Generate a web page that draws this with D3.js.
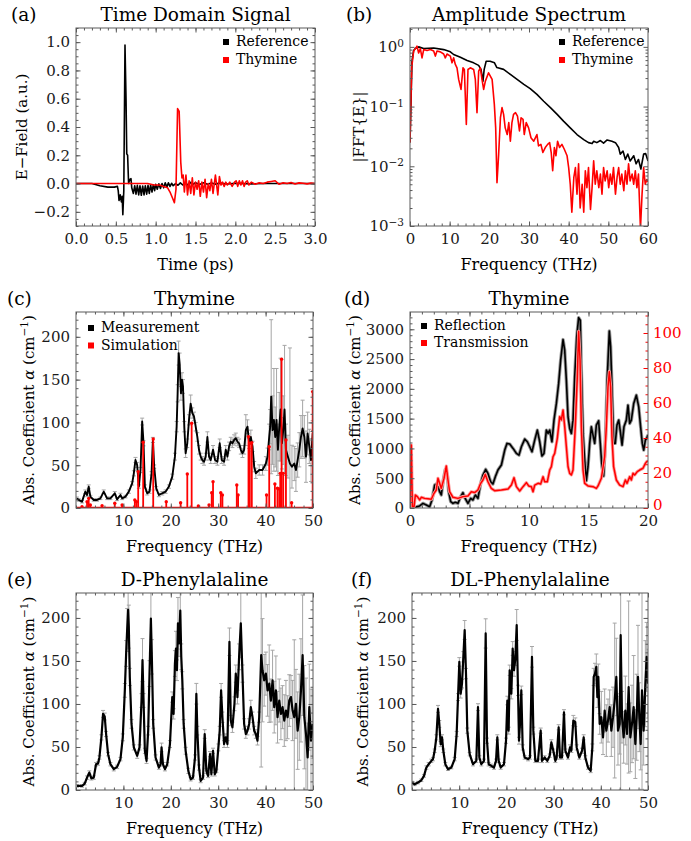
<!DOCTYPE html>
<html>
<head>
<meta charset="utf-8">
<script src="https://cdn.jsdelivr.net/npm/d3@7"></script>
<style>
  body { margin: 0; background: #fff; }
  text { font-family: "DejaVu Serif", serif; }
</style>
</head>
<body>
<div id="container"></div>
<script>
// ---------- data ----------
// (a) time domain signal: [time ps, field a.u.]
const refSignal = [[0,0],[0.2,0],[0.3,-0.015],[0.4,-0.025],[0.48,-0.025],[0.52,-0.02],[0.53,-0.05],[0.54,-0.12],[0.555,-0.08],[0.57,-0.13],[0.58,-0.09],[0.588,-0.22],[0.6,-0.05],[0.615,0.98],[0.628,0.6],[0.637,0.21],[0.648,0.2],[0.66,0.0],[0.675,0.03],[0.69,0.035],[0.70,-0.03],[0.72,-0.07],[0.737,-0.015],[0.753,-0.075],[0.77,-0.012],[0.787,-0.08],[0.803,-0.015],[0.82,-0.083],[0.837,-0.017],[0.854,-0.08],[0.87,-0.015],[0.887,-0.075],[0.904,-0.012],[0.92,-0.07],[0.937,-0.01],[0.954,-0.06],[0.97,-0.008],[0.987,-0.05],[1.0,-0.005],[1.02,-0.04],[1.04,-0.002],[1.06,-0.035],[1.08,0.0],[1.1,-0.03],[1.12,0.005],[1.14,-0.025],[1.16,0.005],[1.18,-0.02],[1.2,0.002],[1.22,-0.015],[1.25,0.0],[1.28,-0.012],[1.31,0.005],[1.34,-0.01],[1.37,0.008],[1.4,-0.01],[1.43,0.01],[1.46,-0.008],[1.5,0.006],[1.55,-0.006],[1.6,0.005],[1.65,-0.005],[1.7,0.004],[1.75,-0.004],[1.8,0.003],[1.9,-0.003],[2.0,0.002],[2.2,-0.002],[2.4,0.001],[2.6,0],[3.0,0]];
const thySignal = [[0,0],[0.9,0],[0.98,-0.01],[1.05,-0.01],[1.1,-0.02],[1.15,-0.03],[1.18,-0.06],[1.21,-0.1],[1.235,-0.135],[1.255,-0.04],[1.275,0.53],[1.295,0.51],[1.315,0.15],[1.33,0.04],[1.345,0.06],[1.36,-0.06],[1.38,0.06],[1.4,-0.08],[1.42,0.02],[1.44,-0.07],[1.46,0.04],[1.48,-0.08],[1.5,0.01],[1.52,-0.04],[1.54,0.02],[1.56,-0.09],[1.58,0.01],[1.6,-0.06],[1.62,0.03],[1.64,-0.1],[1.66,0.0],[1.68,-0.05],[1.7,0.03],[1.72,-0.07],[1.75,0.06],[1.78,-0.08],[1.8,0.05],[1.82,-0.01],[1.84,0.01],[1.86,-0.02],[1.88,0.01],[1.9,-0.01],[1.93,0.01],[1.96,-0.02],[1.99,0.01],[2.01,0.02],[2.03,-0.02],[2.05,0.02],[2.07,-0.01],[2.09,0.02],[2.11,-0.02],[2.13,0.01],[2.15,0.02],[2.17,-0.01],[2.2,0.01],[2.25,-0.005],[2.3,0.005],[2.35,0],[2.4,0.01],[2.45,0.015],[2.5,0.02],[2.55,-0.005],[2.6,0.005],[2.65,0],[2.7,0.008],[2.75,-0.003],[2.8,0.005],[2.85,0.002],[2.9,-0.002],[2.95,0.003],[3.0,0]];

// (b) amplitude spectrum: [THz, |FFT|]
const refSpectrum = [[0,0.025],[0.5,0.575],[0.92,0.87],[1.34,0.94],[2.18,1.0],[3.45,0.94],[5.97,0.96],[8.49,0.9],[10.17,0.825],[11.0,0.745],[12.7,0.67],[14.4,0.59],[16.05,0.54],[17.3,0.49],[17.9,0.42],[18.4,0.267],[18.7,0.42],[19.2,0.575],[20.2,0.575],[21.3,0.54],[21.9,0.45],[23.6,0.42],[25.3,0.345],[27,0.285],[28.7,0.235],[30.3,0.2],[32,0.16],[33.7,0.123],[35.4,0.096],[37.1,0.074],[38.7,0.057],[40.4,0.044],[42.1,0.034],[43.8,0.028],[45.0,0.0249],[45.9,0.024],[46.3,0.0263],[47.1,0.0249],[48.0,0.027],[48.8,0.0245],[49.7,0.0276],[50.9,0.0263],[51.8,0.0249],[52.6,0.0206],[53.0,0.016],[53.7,0.018],[54.3,0.013],[54.9,0.016],[55.5,0.0123],[56.4,0.015],[57.0,0.011],[57.6,0.013],[58.2,0.009],[58.9,0.016],[59.4,0.0163],[60,0.0123]];
const thySpectrum = [[0,0.025],[0.42,0.45],[0.92,0.85],[1.6,0.99],[1.76,1.03],[2.18,0.79],[2.6,0.94],[3.03,0.655],[3.45,0.9],[4.29,0.87],[5.13,0.9],[5.97,0.85],[6.39,0.7],[6.81,0.85],[7.65,0.825],[8.49,0.76],[8.9,0.655],[9.33,0.76],[10.17,0.7],[10.6,0.54],[11.01,0.655],[11.43,0.507],[11.85,0.446],[12.27,0.285],[12.86,0.194],[13.36,0.446],[13.7,0.418],[14.2,0.05],[14.62,0.418],[15.2,0.446],[16.05,0.418],[16.47,0.285],[16.89,0.079],[17.31,0.392],[17.73,0.446],[18.15,0.285],[18.57,0.194],[19.0,0.267],[19.8,0.368],[20.7,0.285],[21.26,0.109],[21.6,0.044],[21.93,0.0053],[22.35,0.016],[22.8,0.065],[23.2,0.096],[23.6,0.074],[24.0,0.044],[24.5,0.034],[24.9,0.054],[25.3,0.0263],[25.7,0.054],[26.1,0.074],[26.6,0.079],[27.1,0.069],[27.6,0.039],[28.0,0.065],[28.5,0.061],[28.8,0.034],[29.3,0.054],[29.9,0.044],[30.5,0.03],[31.2,0.0263],[32.0,0.034],[32.4,0.022],[33.0,0.0233],[33.5,0.017],[34.1,0.0206],[34.7,0.0233],[35.2,0.0249],[35.6,0.017],[35.97,0.0084],[36.4,0.0206],[36.8,0.015],[37.2,0.0263],[37.7,0.0206],[38.3,0.0233],[38.9,0.0193],[39.6,0.015],[40.0,0.0095],[40.4,0.005],[40.8,0.0017],[41.3,0.0065],[41.7,0.0095],[42.1,0.0034],[42.5,0.011],[42.9,0.002],[43.4,0.005],[43.8,0.0017],[44.2,0.0084],[44.6,0.0044],[45.0,0.0095],[45.5,0.0019],[45.9,0.0044],[46.3,0.0123],[46.7,0.005],[47.1,0.0084],[47.6,0.0044],[48.0,0.0074],[48.4,0.0034],[48.8,0.0095],[49.2,0.0057],[49.7,0.0084],[50.1,0.0044],[50.5,0.0074],[50.9,0.005],[51.3,0.0095],[51.8,0.0034],[52.2,0.0065],[52.6,0.0095],[53.0,0.005],[53.4,0.0074],[53.9,0.0039],[54.3,0.0084],[54.7,0.005],[55.1,0.011],[55.5,0.0057],[56.0,0.0074],[56.4,0.005],[56.8,0.0084],[57.2,0.0044],[57.6,0.0074],[58.1,0.0009],[58.5,0.0034],[58.9,0.0095],[59.3,0.005],[59.7,0.006],[60,0.0055]];

// (c) thymine absorption: [THz, alpha, error]
const thyMeasured = [[0.2,11.3,1.5],[0.56,9.4,1.5],[1.27,7.4,1.5],[1.97,19.1,2],[2.33,15.2,2],[2.68,25,2],[3.03,13.3,1.5],[3.74,9.4,1.5],[4.44,9.4,1.5],[5.15,11.3,1.5],[5.85,19.1,2],[6.56,11.3,1.5],[7.26,11.3,1.5],[8.18,17.2,2],[8.67,10.1,1.5],[9.38,15.2,2],[9.73,11.3,1.5],[10.44,13.3,1.5],[11.14,19.1,2],[11.85,28.8,2],[12.2,40.5,3],[12.55,56.1,3],[12.9,50.3,3],[13.26,25,2],[13.61,44.4,3],[13.96,101,4],[14.25,75.6,3],[14.53,25,2],[15.02,17.2,2],[15.51,19.1,2],[15.94,40.5,2],[16.22,79.5,3],[16.5,48.3,2],[16.93,23,2],[17.49,15.2,2],[18.19,17.2,2],[18.9,19.1,2],[19.6,25,2],[20.31,36.6,3],[20.87,60,4],[21.23,95,6],[21.44,134,10],[21.65,181,14],[21.86,169,12],[22.14,134,8],[22.36,150,8],[22.57,142,8],[22.85,95,6],[23.13,64,5],[23.48,75.6,5],[23.84,103,6],[24.19,122,10],[24.54,111,6],[24.89,107,5],[25.25,95,5],[25.6,83,5],[25.95,68,5],[26.3,60,4],[26.66,56,4],[27.01,54,4],[27.36,60,4],[27.72,83,6],[28.07,60,4],[28.42,56,4],[28.91,68,5],[29.34,56,4],[29.83,54,4],[30.32,75.6,5],[30.75,56,4],[31.24,54,4],[31.59,68,5],[31.95,60,4],[32.3,72,5],[32.65,77.6,5],[33.0,75.6,5],[33.36,79.5,6],[33.71,81.5,6],[34.06,77.6,5],[34.41,75.6,5],[34.77,68,5],[35.12,64,5],[35.47,68,5],[35.83,91,18],[36.18,95,8],[36.53,75.6,6],[36.88,83,8],[37.24,72,6],[37.59,48.3,6],[37.94,40.5,6],[38.65,44.4,6],[39.35,44.4,6],[40.06,52,8],[40.41,60,10],[40.76,83,15],[40.97,95,20],[41.18,130,90],[41.47,91,40],[41.75,103,60],[42.03,83,35],[42.31,103,60],[42.6,68,30],[42.88,95,40],[43.16,115,60],[43.44,75.6,30],[43.72,91,40],[44.0,115,75],[44.29,68,30],[44.71,60,25],[45.13,52,135],[45.56,48.3,25],[46.05,52,20],[46.4,44.4,25],[46.76,56,20],[47.11,68,20],[47.46,83,25],[47.81,93,33],[48.17,83,25],[48.52,60,30],[48.87,87,25],[49.22,72,20],[49.58,56,25],[49.93,87,15],[50,75.6,15]];
const thySimulated = [[1.27,1.6],[2.33,7.4],[2.68,11.3],[3.03,3.5],[5.5,2.7],[8.18,5.5],[9.73,3.5],[12.41,9.4],[12.76,7.4],[13.12,42.5],[14.17,76.8],[16.29,80.7],[19.04,7.4],[22.07,6.2],[23.48,39.8],[24.4,99],[25.81,2.3],[28.07,3.5],[28.63,17.9],[28.91,30.8],[30.54,17.9],[30.89,15.2],[33.92,26.9],[34.2,15.2],[36.39,83.4],[36.67,75.6],[37.09,76.4],[40.2,15.2],[40.76,71.7],[41.96,28],[42.5,23],[42.88,22.2],[43.09,40.5],[43.37,173.9],[43.72,40.5],[44.29,79.5],[45.49,6.2],[49.93,136]];

// (d) reflection (left axis) and transmission (right axis): [THz, alpha]
const reflection = [[0,0],[0.39,11],[0.81,34],[1.09,78],[1.37,50],[1.65,22],[1.85,134],[2.07,385],[2.3,413],[2.49,274],[2.63,218],[2.8,469],[2.97,648],[3.14,553],[3.25,274],[3.42,106],[3.61,78],[3.81,95],[4.03,78],[4.26,190],[4.45,257],[4.59,179],[4.87,78],[5.1,162],[5.29,134],[5.49,218],[5.71,162],[5.94,413],[6.13,553],[6.36,648],[6.55,581],[6.78,441],[6.97,402],[7.17,525],[7.39,637],[7.68,721],[7.96,972],[8.15,1084],[8.38,1073],[8.66,1000],[8.94,916],[9.16,888],[9.36,1028],[9.64,1157],[9.86,1112],[10.06,1028],[10.25,944],[10.48,1140],[10.7,1307],[10.9,1112],[11.09,872],[11.26,916],[11.46,1307],[11.6,1251],[11.74,1307],[11.93,1112],[12.1,1475],[12.3,1754],[12.49,2090],[12.66,2481],[12.86,2827],[13.0,2648],[13.14,2145],[13.28,1531],[13.42,1335],[13.56,1251],[13.7,1475],[13.84,2201],[14.01,2872],[14.17,3196],[14.31,3151],[14.4,2313],[14.54,1251],[14.68,805],[14.82,458],[14.96,693],[15.1,1084],[15.24,1363],[15.38,1224],[15.52,1084],[15.66,1391],[15.85,1464],[15.99,1084],[16.13,693],[16.27,536],[16.41,1084],[16.58,2201],[16.75,2972],[16.86,2704],[16.97,2034],[17.11,1084],[17.25,1084],[17.39,1391],[17.54,1475],[17.68,1279],[17.82,1056],[17.98,1363],[18.18,1475],[18.32,1726],[18.46,1419],[18.6,1475],[18.8,1754],[19.02,1894],[19.22,1698],[19.38,1363],[19.52,1084],[19.64,972],[19.78,1140],[19.89,1168],[20,1230]];
const transmission = [[0,0],[0.11,36],[0.2,0.8],[0.34,0.8],[0.45,7.4],[0.62,6.5],[0.81,4.6],[0.95,6.1],[1.23,5.5],[1.51,5.3],[1.79,5.0],[2.02,8.4],[2.21,10.3],[2.35,17],[2.49,14.1],[2.63,11.2],[2.86,17],[3.05,24],[3.19,16],[3.33,9.3],[3.61,6.1],[4.03,5.5],[4.45,6.5],[4.87,6.9],[5.15,9.3],[5.43,8.8],[5.71,10.3],[5.94,14.1],[6.13,16],[6.33,19.2],[6.55,15],[6.83,11.2],[7.11,9.9],[7.68,10.3],[8.24,10.9],[8.52,13.1],[8.74,17.3],[8.94,12.2],[9.22,9.7],[9.5,12.2],[9.78,14.5],[9.97,12.6],[10.2,12.2],[10.34,9.3],[10.48,13.1],[10.76,14.1],[10.98,13.7],[11.18,17.9],[11.32,15],[11.54,15],[11.74,21.7],[11.88,23.6],[12.02,29.3],[12.16,31.2],[12.38,39.8],[12.58,52.2],[12.72,50.3],[12.86,56],[13.0,46.5],[13.14,35],[13.28,23.6],[13.42,19.8],[13.56,18.9],[13.7,21.7],[13.89,46.5],[14.06,75],[14.17,101],[14.29,84.6],[14.4,46.5],[14.54,21.7],[14.68,14.1],[14.96,12.6],[15.38,12.2],[15.66,11.2],[15.8,12.6],[16.08,17],[16.36,29.3],[16.5,46.5],[16.64,69.3],[16.75,77.9],[16.86,69.3],[16.97,40.8],[17.11,23.6],[17.34,16],[17.62,13.1],[17.9,12.2],[18.1,16],[18.24,14.1],[18.46,17.9],[18.6,16],[18.74,19.8],[18.88,18.9],[19.1,20.8],[19.3,21.7],[19.58,22.7],[19.78,25.5],[19.89,26.5],[20,27]];

// (e) D-phenylalanine: [THz, alpha, error]
const dPhe = [[0.21,4.7,1.5],[1.27,4.7,1.5],[1.83,7.4,1.5],[2.33,14.4,2],[2.82,20.3,2],[3.24,13.6,2],[3.74,14.4,2],[4.23,30,2],[4.65,30.8,2],[4.94,37.8,2],[5.36,61.2,3],[5.71,88.5,4],[6.06,85.4,4],[6.35,65.1,3],[6.77,41.7,2],[7.26,30,2],[7.97,24.2,2],[8.67,26.9,2],[9.38,35.9,2],[9.87,61.2,4],[10.3,115.8,8],[10.58,158.7,15],[10.79,186,25],[11.0,209.4,30],[11.14,189.9,25],[11.35,131.4,10],[11.71,76.8,5],[12.2,49.5,3],[12.91,39.8,3],[13.4,49.5,3],[13.82,104,8],[14.03,151,25],[14.25,104,8],[14.53,45.6,3],[14.88,33.9,3],[15.23,69,5],[15.51,135.3,15],[15.8,199.2,40],[16.0,154.8,20],[16.29,76.8,5],[16.78,37.8,3],[17.49,26.1,2],[17.84,30,2],[18.05,49.5,5],[18.34,30,2],[18.76,24.2,2],[19.25,30,2],[19.82,53.4,4],[20.31,108,6],[20.59,88.5,6],[20.87,147,15],[21.09,164.5,20],[21.3,139.2,12],[21.51,193.8,30],[21.72,170.4,15],[22.0,208.6,35],[22.21,154.8,15],[22.43,127.5,10],[22.71,76.8,5],[23.13,45.6,4],[23.7,22.2,3],[24.19,12.5,2],[24.68,14.4,2],[25.11,37.8,3],[25.39,111.9,12],[25.6,69,5],[25.95,26.1,3],[26.3,10.5,2],[26.8,14.4,2],[27.15,65.1,5],[27.5,22.2,3],[27.86,16.4,2],[28.28,41.7,3],[28.56,18.3,2],[28.91,45.6,3],[29.27,18.3,2],[29.62,22.2,2],[30.04,49.5,4],[30.32,69,5],[30.61,115.8,8],[30.89,84.6,6],[31.24,53.4,4],[31.59,61.2,4],[31.95,53.4,4],[32.37,172.3,16],[32.65,80.7,6],[33.0,72.9,6],[33.43,100.2,8],[33.71,135.3,10],[34.06,108,8],[34.41,154.8,15],[34.77,193.8,40],[35.12,135.3,10],[35.47,76.8,6],[35.83,65.1,5],[36.18,69,5],[36.53,76.8,6],[36.88,96.3,8],[37.24,84.6,6],[37.59,69,5],[37.94,65.1,5],[38.29,57.3,5],[38.65,84.6,6],[39.07,156.7,130],[39.35,139.2,60],[39.7,127.5,30],[40.06,135.3,25],[40.41,115.8,30],[40.76,123.6,45],[41.11,104,25],[41.47,127.5,35],[41.82,96.3,30],[42.17,115.8,40],[42.52,84.6,30],[42.88,104,25],[43.23,88.5,30],[43.58,96.3,25],[43.94,80.7,30],[44.29,92.4,35],[44.64,84.6,25],[44.99,104,30],[45.35,108,25],[45.7,92.4,35],[46.05,84.6,90],[46.4,100.2,40],[46.76,69,45],[47.11,84.6,50],[47.46,115.8,60],[47.81,156.7,70],[48.17,84.6,60],[48.52,65.1,65],[48.87,37.8,40],[49.22,96.3,50],[49.58,57.3,60],[49.93,76.8,40]];

// (f) DL-phenylalanine: [THz, alpha, error]
const dlPhe = [[0,8.6,1.5],[0.56,6.6,1.5],[1.27,8.6,1.5],[1.98,11.3,1.5],[2.54,16.4,1.5],[3.04,26.1,2],[3.53,30,2],[4.1,33.9,2],[4.45,35.9,2],[4.8,45.6,2],[5.16,61.2,3],[5.51,94.3,4],[5.79,76.8,4],[6.07,53.4,3],[6.36,61.2,3],[6.64,45.6,2],[7.06,30,2],[7.63,24.2,1.5],[8.33,26.1,1.5],[9.04,35.9,2],[9.46,65.1,3],[9.75,108,4],[10.03,148.9,5],[10.31,111.9,5],[10.59,123.6,5],[10.88,154.8,6],[11.16,186,11],[11.44,135.3,6],[11.72,69,3],[12.22,41.7,2],[12.92,30,2],[13.63,33.9,2],[13.98,96.3,4],[14.27,37.8,2],[14.69,30,2],[15.25,33.9,2],[15.61,182,17],[15.89,57.3,3],[16.24,30,2],[16.81,28.1,2],[17.37,26.1,2],[17.8,33.9,2],[18.08,61.2,3],[18.36,33.9,2],[18.79,26.1,2],[19.49,30,2],[19.92,57.3,3],[20.2,104,5],[20.48,69,4],[20.69,139.2,6],[21.05,111.9,6],[21.33,164.5,8],[21.61,139.2,7],[21.89,152.8,8],[22.18,191.8,18],[22.46,115.8,6],[22.67,57.3,4],[22.88,76.8,4],[23.16,115.8,5],[23.45,49.5,3],[23.87,37.8,2],[24.58,35.9,2],[25.0,37.8,2],[25.42,154.8,12],[25.71,69,4],[26.13,33.9,2],[26.69,33.9,2],[27.26,69,3],[27.54,33.9,2],[28.11,37.8,2],[28.67,33.9,2],[29.17,39.8,2],[29.52,55.4,3],[29.94,45.6,2],[30.37,33.9,2],[30.65,37.8,2],[31.07,72.9,3],[31.36,37.8,2],[31.78,37.8,2],[32.2,90.4,3],[32.49,45.6,2],[33.05,37.8,2],[33.47,49.5,3],[33.76,45.6,2],[34.18,80.7,6],[34.6,78.8,5],[34.89,49.5,3],[35.45,37.8,2],[36.02,45.6,3],[36.37,61.2,3],[36.72,37.8,2],[37.29,26.1,2],[37.85,22.2,2],[38.21,49.5,4],[38.49,131.4,10],[38.77,135.3,12],[39.05,143.1,15],[39.27,108,12],[39.48,131.4,15],[39.76,76.8,12],[40.11,84.6,30],[40.47,61.2,20],[40.82,92.4,25],[41.17,69,30],[41.53,80.7,25],[41.88,96.3,20],[42.23,69,30],[42.59,84.6,35],[42.94,104,90],[43.29,131.4,45],[43.64,69,40],[44.0,76.8,35],[44.21,180,180],[44.49,84.6,30],[44.84,61.2,30],[45.2,92.4,40],[45.55,65.1,35],[45.9,119.7,100],[46.26,61.2,40],[46.61,76.8,45],[46.96,96.3,60],[47.32,53.4,40],[47.6,84.6,50],[47.88,131.4,60],[48.16,84.6,40],[48.45,53.4,30],[48.73,115.8,115],[49.08,69,40],[49.44,123.6,50],[49.72,154.8,40],[50,123.6,40]];

// ---------- setup ----------
const svg = d3.select("#container").append("svg")
    .attr("width", 691)
    .attr("height", 841);

const frameColor = "#5a5a5a";
const red = "#ff0000";
const tickFont = 15;
let clipCount = 0;

// Make a clipped group for the plot area of a panel
function plotArea(p) {
    const id = "clip" + (clipCount++);
    svg.append("clipPath").attr("id", id)
        .append("rect")
        .attr("x", p.left).attr("y", p.top)
        .attr("width", p.right - p.left).attr("height", p.bottom - p.top);
    return svg.append("g").attr("clip-path", `url(#${id})`);
}

// Frame with inward ticks on all four sides
function frame(p) {
    const g = svg.append("g");
    const within = (s, vals) => {
        const d = s.domain();
        const lo = Math.min(d[0], d[1]), hi = Math.max(d[0], d[1]);
        return vals.filter(v => v >= lo - 1e-9 && v <= hi + 1e-9);
    };
    const put = (axis, s, vals, size, fmt, tx, ty, color, pad) => {
        axis.tickValues(within(s, vals)).tickSize(size).tickSizeOuter(0)
            .tickPadding(pad || 6).tickFormat(fmt || (() => ""));
        const a = g.append("g").attr("transform", `translate(${tx},${ty})`).call(axis);
        a.select(".domain").remove();
        a.selectAll("line").attr("stroke", color || frameColor);
        a.selectAll("text")
            .attr("font-size", tickFont)
            .attr("font-family", '"DejaVu Serif", serif')
            .attr("fill", color || "#1a1a1a");
        return a;
    };
    put(d3.axisBottom(p.x), p.x, p.xMajor, -4.5, p.xFmt, 0, p.bottom, null, 7.5);
    put(d3.axisBottom(p.x), p.x, p.xMinor, -2.5, null, 0, p.bottom);
    put(d3.axisTop(p.x), p.x, p.xMajor, -4.5, null, 0, p.top);
    put(d3.axisTop(p.x), p.x, p.xMinor, -2.5, null, 0, p.top);
    const yl = put(d3.axisLeft(p.y), p.y, p.yMajor, -4.5, p.yFmt, p.left, 0);
    put(d3.axisLeft(p.y), p.y, p.yMinor, -2.5, null, p.left, 0);
    if (p.y2) {
        const r = put(d3.axisRight(p.y2), p.y2, p.y2Major, -4.5, d3.format("d"), p.right, 0, red, 5);
        // lift the lowest label a little so it clears the bottom tick labels
        r.selectAll(".tick text").filter(d => d === 0).attr("dy", "0.1em");
        put(d3.axisRight(p.y2), p.y2, p.y2Minor, -2.5, null, p.right, 0, red);
    } else {
        put(d3.axisRight(p.y), p.y, p.yMajor, -4.5, null, p.right, 0);
        put(d3.axisRight(p.y), p.y, p.yMinor, -2.5, null, p.right, 0);
    }
    g.append("rect")
        .attr("x", p.left).attr("y", p.top)
        .attr("width", p.right - p.left).attr("height", p.bottom - p.top)
        .attr("fill", "none").attr("stroke", frameColor).attr("stroke-width", 1);
    return yl;
}

function titles(p, tag, tagX, title, xLabel) {
    const cx = (p.left + p.right) / 2;
    svg.append("text").attr("x", tagX).attr("y", p.top - 7)
        .attr("font-size", 18.5).text(tag);
    svg.append("text").attr("x", cx).attr("y", p.top - 7)
        .attr("text-anchor", "middle").attr("font-size", 18.5).text(title);
    svg.append("text").attr("x", cx).attr("y", p.bottom + 44)
        .attr("text-anchor", "middle").attr("font-size", 16).text(xLabel);
}

function yLabel(p, x, build) {
    const t = svg.append("text")
        .attr("transform", `translate(${x},${(p.top + p.bottom) / 2}) rotate(-90)`)
        .attr("text-anchor", "middle").attr("font-size", 15);
    build(t);
}

function alphaLabel(t) {
    t.append("tspan").text("Abs. Coefficient ");
    t.append("tspan").attr("font-style", "italic").text("α");
    t.append("tspan").text(" (cm");
    t.append("tspan").attr("dy", -6).attr("font-size", 10.5).text("−1");
    t.append("tspan").attr("dy", 6).text(")");
}

function legend(x, y, items, gap) {
    items.forEach((it, i) => {
        svg.append("rect").attr("x", x).attr("y", y + i * gap - 7)
            .attr("width", 6).attr("height", 6).attr("fill", it.color);
        svg.append("text").attr("x", x + 13).attr("y", y + i * gap)
            .attr("font-size", 14).text(it.name);
    });
}

function drawLine(g, p, data, color, width, yScale) {
    const ys = yScale || p.y;
    g.append("path").datum(data)
        .attr("fill", "none").attr("stroke", color).attr("stroke-width", width)
        .attr("stroke-linejoin", "round")
        .attr("d", d3.line().x(d => p.x(d[0])).y(d => ys(d[1])));
}

function drawErrors(g, p, data) {
    const e = g.append("g").attr("stroke", "#a6a6a6").attr("stroke-width", 1);
    data.forEach(d => {
        const x = p.x(d[0]), y0 = p.y(d[1] - d[2]), y1 = p.y(d[1] + d[2]);
        e.append("line").attr("x1", x).attr("x2", x).attr("y1", y0).attr("y2", y1);
        e.append("line").attr("x1", x - 2).attr("x2", x + 2).attr("y1", y0).attr("y2", y0);
        e.append("line").attr("x1", x - 2).attr("x2", x + 2).attr("y1", y1).attr("y2", y1);
    });
}

const range = (a, b, s) => d3.range(0, Math.round((b - a) / s) + 1).map(i => +(a + i * s).toFixed(6));
const freqFmt = d3.format("d");

// ---------- (a) time domain ----------
const pa = { left: 76, right: 315, top: 28, bottom: 226 };
pa.x = d3.scaleLinear().domain([0, 3]).range([pa.left, pa.right]);
pa.y = d3.scaleLinear().domain([-0.3, 1.1]).range([pa.bottom, pa.top]);
pa.xMajor = range(0, 3, 0.5); pa.xMinor = range(0, 3, 0.1);
pa.yMajor = range(-0.2, 1.0, 0.2); pa.yMinor = range(-0.3, 1.1, 0.05);
pa.xFmt = d3.format(".1f");
pa.yFmt = d => d < 0 ? "−" + d3.format(".1f")(-d) : d3.format(".1f")(d);
{
    const g = plotArea(pa);
    drawLine(g, pa, refSignal, "#000", 1.6);
    drawLine(g, pa, thySignal, red, 1.6);
    frame(pa);
    titles(pa, "(a)", 11, "Time Domain Signal", "Time (ps)");
    yLabel(pa, 27, t => t.text("E−Field  (a.u.)"));
    legend(223, 46, [{ name: "Reference", color: "#000" }, { name: "Thymine", color: red }], 18);
}

// ---------- (b) amplitude spectrum ----------
const pb = { left: 410, right: 648, top: 28, bottom: 226 };
pb.x = d3.scaleLinear().domain([0, 60]).range([pb.left, pb.right]);
pb.y = d3.scaleLog().domain([1e-3, 2.07]).range([pb.bottom, pb.top]);
pb.xMajor = range(0, 60, 10); pb.xMinor = range(0, 60, 2);
pb.yMajor = [1e-3, 1e-2, 1e-1, 1];
pb.yMinor = [];
[1e-3, 1e-2, 1e-1, 1].forEach(dec => [2, 3, 4, 5, 6, 7, 8, 9].forEach(m => pb.yMinor.push(dec * m)));
pb.xFmt = freqFmt;
pb.yFmt = () => "10";
{
    const g = plotArea(pb);
    drawLine(g, pb, refSpectrum, "#000", 1.6);
    drawLine(g, pb, thySpectrum, red, 1.6);
    const yl = frame(pb);
    yl.selectAll(".tick text").each(function (d) {
        const e = Math.round(Math.log10(d));
        d3.select(this).append("tspan").attr("dy", "-0.5em").attr("font-size", 10.5)
            .text(e === 0 ? "0" : "−" + (-e));
    });
    titles(pb, "(b)", 346, "Amplitude Spectrum", "Frequency (THz)");
    yLabel(pb, 364, t => t.text("|FFT{E}|"));
    legend(559, 46, [{ name: "Reference", color: "#000" }, { name: "Thymine", color: red }], 18);
}

// ---------- (c) thymine measurement vs simulation ----------
const pc = { left: 76, right: 313, top: 312, bottom: 508 };
pc.x = d3.scaleLinear().domain([0, 50]).range([pc.left, pc.right]);
pc.y = d3.scaleLinear().domain([0, 229]).range([pc.bottom, pc.top]);
pc.xMajor = range(10, 50, 10); pc.xMinor = range(0, 50, 2);
pc.yMajor = range(0, 200, 50); pc.yMinor = range(0, 220, 10);
pc.xFmt = freqFmt; pc.yFmt = freqFmt;
{
    const g = plotArea(pc);
    drawErrors(g, pc, thyMeasured);
    drawLine(g, pc, thyMeasured, "#000", 1.9);
    drawLine(g, pc, [[0, 0], [50, 0]], red, 2.5);
    g.append("g").selectAll("line").data(thySimulated).enter().append("line")
        .attr("x1", d => pc.x(d[0])).attr("x2", d => pc.x(d[0]))
        .attr("y1", pc.y(0)).attr("y2", d => pc.y(d[1]))
        .attr("stroke", red).attr("stroke-width", 1.8);
    g.append("g").selectAll("circle").data(thySimulated).enter().append("circle")
        .attr("cx", d => pc.x(d[0])).attr("cy", d => pc.y(d[1]))
        .attr("r", 1.7).attr("fill", red);
    frame(pc);
    titles(pc, "(c)", 7, "Thymine", "Frequency (THz)");
    yLabel(pc, 34, alphaLabel);
    legend(88, 332, [{ name: "Measurement", color: "#000" }, { name: "Simulation", color: red }], 17.5);
}

// ---------- (d) reflection vs transmission ----------
const pd = { left: 410, right: 648, top: 312, bottom: 508 };
pd.x = d3.scaleLinear().domain([0, 20]).range([pd.left, pd.right]);
pd.y = d3.scaleLinear().domain([0, 3290]).range([pd.bottom, pd.top]);
pd.y2 = d3.scaleLinear().domain([0, 112]).range([pd.bottom, pd.top]);
pd.xMajor = range(0, 20, 5); pd.xMinor = range(0, 20, 1);
pd.yMajor = range(0, 3000, 500); pd.yMinor = range(0, 3200, 100);
pd.y2Major = range(0, 100, 20); pd.y2Minor = range(0, 110, 5);
pd.xFmt = freqFmt; pd.yFmt = freqFmt;
{
    const g = plotArea(pd);
    drawLine(g, pd, reflection, "#9a9a9a", 3.4);
    drawLine(g, pd, reflection, "#000", 1.6);
    drawLine(g, pd, transmission, "#ff9d9d", 3.2, pd.y2);
    drawLine(g, pd, transmission, red, 1.5, pd.y2);
    frame(pd);
    titles(pd, "(d)", 344, "Thymine", "Frequency (THz)");
    yLabel(pd, 360, alphaLabel);
    legend(421, 330, [{ name: "Reflection", color: "#000" }, { name: "Transmission", color: red }], 17);
}

// ---------- (e) D-phenylalanine ----------
const pe = { left: 76, right: 313, top: 593, bottom: 790 };
pe.x = d3.scaleLinear().domain([0, 50]).range([pe.left, pe.right]);
pe.y = d3.scaleLinear().domain([0, 229]).range([pe.bottom, pe.top]);
pe.xMajor = range(10, 50, 10); pe.xMinor = range(0, 50, 2);
pe.yMajor = range(0, 200, 50); pe.yMinor = range(0, 220, 10);
pe.xFmt = freqFmt; pe.yFmt = freqFmt;
{
    const g = plotArea(pe);
    drawErrors(g, pe, dPhe);
    drawLine(g, pe, dPhe, "#000", 2.2);
    frame(pe);
    titles(pe, "(e)", 7, "D-Phenylalaline", "Frequency (THz)");
    yLabel(pe, 34, alphaLabel);
}

// ---------- (f) DL-phenylalanine ----------
const pf = { left: 412, right: 648, top: 593, bottom: 790 };
pf.x = d3.scaleLinear().domain([0, 50]).range([pf.left, pf.right]);
pf.y = d3.scaleLinear().domain([0, 229]).range([pf.bottom, pf.top]);
pf.xMajor = range(10, 50, 10); pf.xMinor = range(0, 50, 2);
pf.yMajor = range(0, 200, 50); pf.yMinor = range(0, 220, 10);
pf.xFmt = freqFmt; pf.yFmt = freqFmt;
{
    const g = plotArea(pf);
    drawErrors(g, pf, dlPhe);
    drawLine(g, pf, dlPhe, "#000", 2.2);
    frame(pf);
    titles(pf, "(f)", 351, "DL-Phenylalaline", "Frequency (THz)");
    yLabel(pf, 368, alphaLabel);
}
</script>
</body>
</html>
